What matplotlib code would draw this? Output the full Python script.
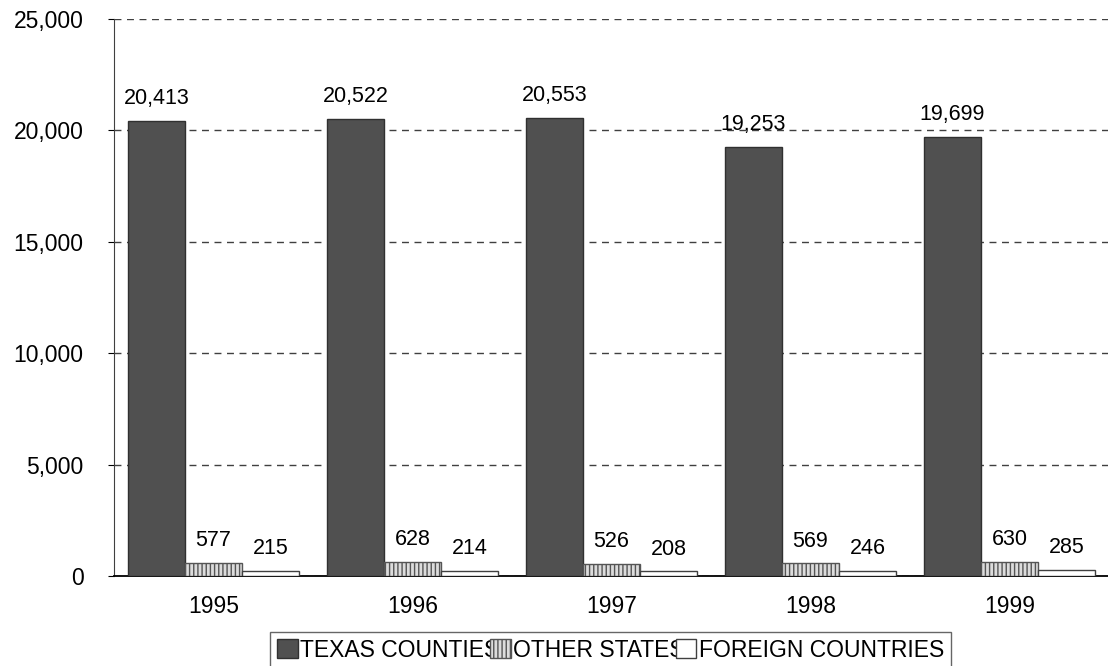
import matplotlib
matplotlib.use("Agg")
import matplotlib.pyplot as plt
import numpy as np
from matplotlib.ticker import FuncFormatter

plt.rcParams['font.family'] = ['Liberation Sans', 'DejaVu Sans']

years = ["1995", "1996", "1997", "1998", "1999"]
series_names = ["TEXAS COUNTIES", "OTHER STATES", "FOREIGN COUNTRIES"]
texas = [20413, 20522, 20553, 19253, 19699]
other = [577, 628, 526, 569, 630]
foreign = [215, 214, 208, 246, 285]
yticks = [0, 5000, 10000, 15000, 20000, 25000]

fig = plt.figure(figsize=(11.08, 6.66), dpi=100)
ax = fig.add_axes([114/1108, 1 - 576/666, 995/1108, (576 - 19)/666])

x = np.arange(len(years))
w = 0.287
styles = [
    dict(facecolor='#505050', edgecolor='#303030', hatch=None),
    dict(facecolor='#dcdcdc', edgecolor='#555555', hatch='||||'),
    dict(facecolor='white', edgecolor='#404040', hatch=None),
]
data = [texas, other, foreign]
handles = []
for i, (vals, st) in enumerate(zip(data, styles)):
    bars = ax.bar(x + (i - 1) * w, vals, w, facecolor=st['facecolor'],
                  edgecolor=st['edgecolor'], hatch=st['hatch'], linewidth=1,
                  label=series_names[i], zorder=3)
    handles.append(bars)
    for xi, v in zip(x + (i - 1) * w, vals):
        ax.annotate(f"{v:,}", (xi, v), xytext=(0, 8.5),
                    textcoords='offset points', ha='center', va='bottom',
                    fontsize=15.5)

ax.set_xlim(-0.5, len(years) - 0.5)
ax.set_ylim(0, 25000)
ax.set_yticks(yticks)
ax.yaxis.set_major_formatter(FuncFormatter(lambda v, p: f"{int(v):,}"))
ax.set_xticks(x)
ax.set_xticklabels(years)
ax.tick_params(axis='x', length=0, labelsize=16.5, pad=14)
ax.tick_params(axis='y', length=4, labelsize=16.5, pad=18, direction='out')
ax.yaxis.grid(True, linestyle=(0, (5, 4)), color='#404040', linewidth=1, zorder=0)
ax.set_axisbelow(True)
for s in ['top', 'right']:
    ax.spines[s].set_visible(False)
ax.spines['left'].set_color('#404040')
ax.spines['bottom'].set_color('black')
ax.spines['bottom'].set_linewidth(1.3)

leg = fig.legend(handles=handles, labels=series_names, loc='upper center',
                 bbox_to_anchor=(0.551, 1 - 632/666), ncol=3, frameon=True,
                 fancybox=False, edgecolor='#404040', fontsize=16.5,
                 handlelength=0.9, handleheight=0.9, handletextpad=0.1,
                 columnspacing=-0.4, borderpad=0.3, borderaxespad=0)
leg.get_frame().set_linewidth(1)

fig.savefig("out.png", dpi=100)
